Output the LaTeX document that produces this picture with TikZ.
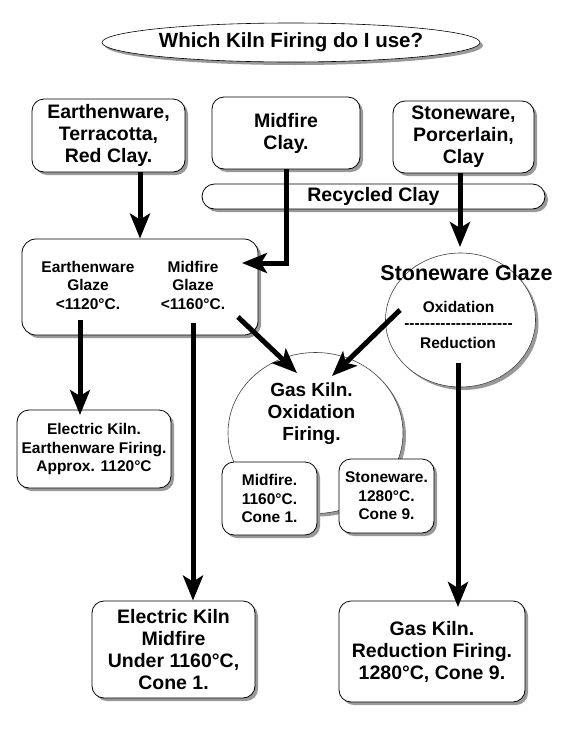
\documentclass[tikz,border=0pt]{standalone}
\usepackage{fontspec}
\setmainfont{Liberation Sans}
\usetikzlibrary{arrows.meta,shapes.geometric,shadows}
\tikzset{boxshadow/.style={drop shadow={shadow xshift=3pt, shadow yshift=-3pt, fill=black!40, opacity=1}}}

\begin{document}
\begin{tikzpicture}[x=1pt,y=-1pt,
  kilnbox/.style={draw, line width=0.8pt, fill=white, rounded corners=12pt, inner sep=0pt, boxshadow},
  kilnoval/.style={ellipse, draw=black!75, line width=0.6pt, fill=white, inner sep=0pt, boxshadow},
  bigtext/.style={align=center, font=\bfseries\fontsize{19.5}{22}\selectfont},
  smalltext/.style={align=center, font=\bfseries\fontsize{15.5}{18.5}\selectfont},
  flow/.style={line width=5pt, line join=miter, -{Stealth[length=25pt,width=20pt,inset=6pt]}}]

  % Page
  \path[fill=white, use as bounding box] (0,0) rectangle (566,750);

  % Title
  \node[kilnoval, draw=black, minimum width=378, minimum height=39, font=\bfseries\fontsize{20.5}{23}\selectfont] (title) at (291,42.5) {Which Kiln Firing do I use?};

  % Clay boxes
  \node[kilnbox, bigtext, minimum width=153, minimum height=73] (redclay) at (108.5,135.5) {Earthenware,\\Terracotta,\\Red Clay.};
  \node[kilnbox, bigtext, minimum width=148, minimum height=72] (midclay) at (286,133) {Midfire\\Clay.};
  \node[kilnbox, bigtext, minimum width=141, minimum height=72] (stoneclay) at (463.5,137) {Stoneware,\\Porcerlain,\\Clay};

  % Recycled clay bar
  \node[kilnbox, bigtext, rounded corners=12.5pt, minimum width=343, minimum height=25] (recycled) at (373.5,196.5) {Recycled Clay};

  % Glaze box
  \node[kilnbox, rounded corners=14pt, minimum width=236, minimum height=96] (glazebox) at (140,287) {};
  \node[smalltext] (eglaze) at (88,285) {Earthenware\\Glaze\\<1120°C.};
  \node[smalltext] (mglaze) at (193,285) {Midfire\\Glaze\\<1160°C.};

  % Stoneware glaze oval
  \node[kilnoval, minimum width=150, minimum height=134] (stoneglaze) at (460.5,320) {};
  \node[bigtext, font=\bfseries\fontsize{21.5}{24}\selectfont] (sglazetitle) at (466.5,273) {Stoneware Glaze};
  \node[smalltext] (oxid) at (458.5,307) {Oxidation};
  \node[smalltext] (dashrow) at (458.5,326) {\foreach \i in {1,...,21}{-\kern0pt}};
  \node[smalltext] (reduc) at (458,343) {Reduction};

  % Gas kiln oxidation oval
  \node[kilnoval, minimum width=175, minimum height=161] (gasox) at (315.5,433) {};
  \node[bigtext, font=\bfseries\fontsize{19}{22}\selectfont] (gasoxtext) at (311.5,414) {Gas Kiln.\\Oxidation\\Firing.};
  \node[kilnbox, smalltext, minimum width=95, minimum height=73] (midsmall) at (269.5,498.5) {Midfire.\\1160°C.\\Cone 1.};
  \node[kilnbox, smalltext, minimum width=95, minimum height=74] (stonesmall) at (386.5,496) {Stoneware.\\1280°C.\\Cone 9.};

  % Firing boxes
  \node[kilnbox, smalltext, minimum width=154, minimum height=78] (elecearth) at (94,449) {Electric Kiln.\\Earthenware Firing.\\Approx. 1120°C};
  \node[kilnbox, bigtext, minimum width=163, minimum height=97] (elecmid) at (173.5,649.5) {Electric Kiln\\Midfire\\Under 1160°C,\\Cone 1.};
  \node[kilnbox, bigtext, minimum width=186, minimum height=101] (gasred) at (432,651.5) {Gas Kiln.\\Reduction Firing.\\1280°C, Cone 9.};

  % Arrow ends
  \coordinate (midin) at (242,263);
  \coordinate (stonein) at (460,247);
  \coordinate (earthout) at (80,320);
  \coordinate (earthin) at (80,415);
  \coordinate (midout) at (193,323);
  \coordinate (diagA) at (238,317);
  \coordinate (diagAtip) at (297,373);
  \coordinate (diagB) at (400,310);
  \coordinate (diagBtip) at (332,376);
  \coordinate (redout) at (458,363);
  \coordinate (redin) at (458,607);

  % Arrows
  \draw[flow] ([xshift=31.5pt]redclay.south) -- ([xshift=31.5pt]redclay.south |- glazebox.north);
  \draw[flow] (midclay.south) |- (midin);
  \draw[flow] ([xshift=-3.5pt]stoneclay.south) -- (stonein);
  \draw[flow] (earthout) -- (earthin);
  \draw[flow] (midout) -- (midout |- elecmid.north);
  \draw[flow] (diagA) -- (diagAtip);
  \draw[flow] (diagB) -- (diagBtip);
  \draw[flow] (redout) -- (redin);

\end{tikzpicture}
\end{document}
